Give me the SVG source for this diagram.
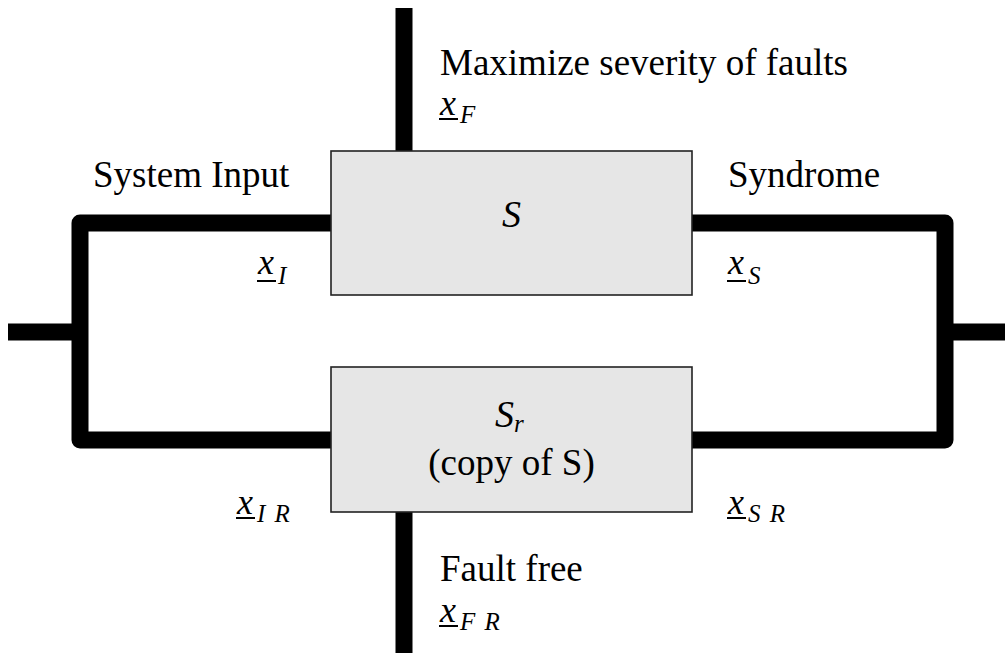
<svg xmlns="http://www.w3.org/2000/svg" width="1005" height="653" viewBox="0 0 1005 653">
  <style>
    .wire { fill: none; stroke: #000; stroke-width: 17; stroke-linejoin: round; stroke-linecap: butt; }
    .block { fill: #e6e6e6; stroke: #222; stroke-width: 1.6; }
    .txt { font-family: "Liberation Serif", "Times New Roman", serif; font-size: 37px; fill: #000; }
    .mi { font-family: "Liberation Serif", "Times New Roman", serif; font-style: italic; font-size: 36px; fill: #000; }
    .sub { font-family: "Liberation Serif", "Times New Roman", serif; font-style: italic; font-size: 25px; fill: #000; word-spacing: 3px; }
    .ul { stroke: #000; stroke-width: 2; }
  </style>

  <!-- signal wires -->
  <g id="connectors">
    <path class="wire" d="M404 8 V151"/>
    <path class="wire" d="M404 512 V653"/>
    <path class="wire" d="M331 223 H80 V440 H331"/>
    <path class="wire" d="M692 223 H945 V440 H692"/>
    <path class="wire" d="M8 332 H80"/>
    <path class="wire" d="M945 332 H1005"/>
  </g>

  <!-- system under test -->
  <g id="node-S">
    <rect class="block" x="331" y="151" width="361" height="144"/>
    <text class="mi" x="511.5" y="227" text-anchor="middle" style="font-size:38px">S</text>
  </g>

  <!-- fault-free replica -->
  <g id="node-Sr">
    <rect class="block" x="331" y="367" width="361" height="145"/>
    <text x="495" y="427"><tspan class="mi" style="font-size:38px">S</tspan><tspan class="sub" dy="5">r</tspan></text>
    <text class="txt" x="511.5" y="475" text-anchor="middle">(copy of S)</text>
  </g>

  <!-- port labels -->
  <g id="label-fault">
    <text class="txt" x="440" y="75">Maximize severity of faults</text>
    <text class="mi" x="440" y="115">x</text>
    <line class="ul" x1="439" y1="119" x2="458" y2="119"/>
    <text class="sub" x="460" y="123">F</text>
  </g>

  <g id="label-input">
    <text class="txt" x="93" y="187">System Input</text>
    <text class="mi" x="258" y="274">x</text>
    <line class="ul" x1="257" y1="281" x2="276" y2="281"/>
    <text class="sub" x="278" y="284">I</text>
  </g>

  <g id="label-syndrome">
    <text class="txt" x="728" y="187">Syndrome</text>
    <text class="mi" x="728" y="274">x</text>
    <line class="ul" x1="727" y1="281" x2="746" y2="281"/>
    <text class="sub" x="748" y="284">S</text>
  </g>

  <g id="label-input-r">
    <text class="mi" x="237" y="514">x</text>
    <line class="ul" x1="236" y1="518" x2="255" y2="518"/>
    <text class="sub" x="257" y="522">I R</text>
  </g>

  <g id="label-syndrome-r">
    <text class="mi" x="728" y="514">x</text>
    <line class="ul" x1="727" y1="518" x2="746" y2="518"/>
    <text class="sub" x="748" y="522">S R</text>
  </g>

  <g id="label-fault-r">
    <text class="txt" x="440" y="581">Fault free</text>
    <text class="mi" x="440" y="622">x</text>
    <line class="ul" x1="439" y1="626" x2="458" y2="626"/>
    <text class="sub" x="460" y="630">F R</text>
  </g>
</svg>
